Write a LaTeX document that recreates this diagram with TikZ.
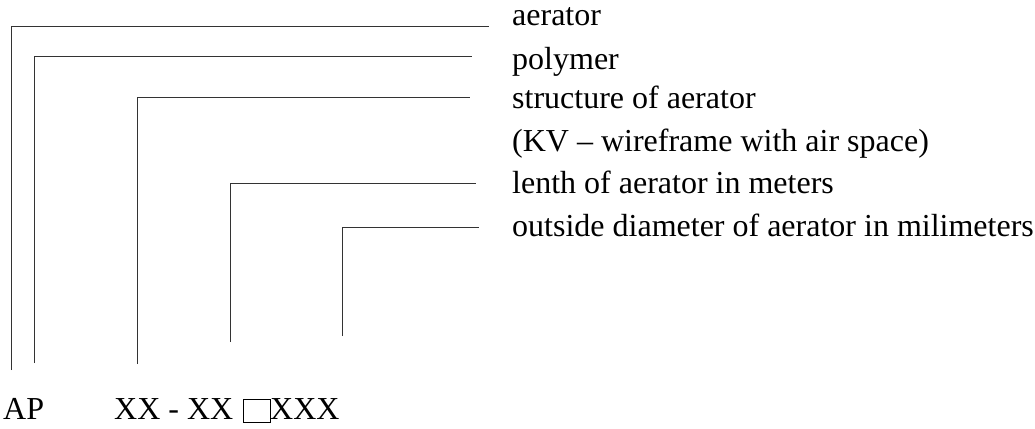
\documentclass[tikz,border=0pt]{standalone}
\usepackage{fontspec}
\setmainfont{Liberation Serif}
\begin{document}
\begin{tikzpicture}[x=1pt,y=-1pt,
  lbl/.style={anchor=base west,inner sep=0pt,font=\fontsize{32}{38}\selectfont},
  leader/.style={draw=black!80,line width=1pt}]
\useasboundingbox (0,0) rectangle (1035,428);

% legend entries on the right
\node[lbl] (aer)  at (512,26)  {aerator};
\node[lbl] (pol)  at (512,69)  {polymer};
\node[lbl] (str)  at (512,108) {structure of aerator};
\node[lbl] (kv)   at (512,151) {(KV -- wireframe with air space)};
\node[lbl] (len)  at (512,193) {lenth of aerator in meters};
\node[lbl] (dia)  at (512,236) {outside diameter of aerator in milimeters};

% designation code at the bottom
\node[lbl] (ap)   at (3,419)   {AP};
\node[lbl] (xx)   at (114,419) {XX - XX};
\node[draw=black,line width=1.4pt,minimum width=27pt,minimum height=23pt,inner sep=0pt,anchor=south west] (box) at (243,423) {};
\node[lbl] (xxx)  at (270,419) {XXX};

% foot and tip points of the leaders
\coordinate (f1) at (11,370);  \coordinate (t1) at (489,27);
\coordinate (f2) at (34,363);  \coordinate (t2) at (472,57);
\coordinate (f3) at (137,364); \coordinate (t3) at (470,97);
\coordinate (f4) at (230,342); \coordinate (t4) at (476,183);
\coordinate (f5) at (342,336); \coordinate (t5) at (479,227);

% leaders: up from the code, then across to the legend
\draw[leader] (f1) |- (t1);
\draw[leader] (f2) |- (t2);
\draw[leader] (f3) |- (t3);
\draw[leader] (f4) |- (t4);
\draw[leader] (f5) |- (t5);
\end{tikzpicture}
\end{document}
